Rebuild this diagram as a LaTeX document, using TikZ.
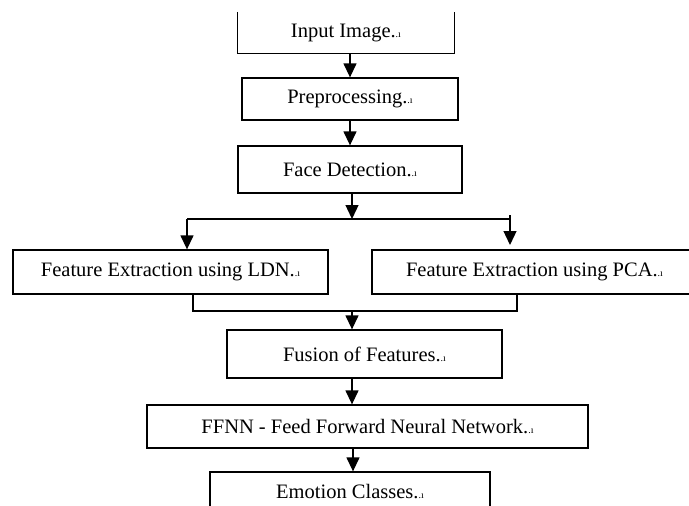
\documentclass[tikz,border=0pt]{standalone}
\usepackage{fontspec}
\setmainfont{Liberation Serif}
\usetikzlibrary{arrows.meta}
\newcommand{\pmark}{{\fontsize{10pt}{10pt}\selectfont .ı}}
\begin{document}
\begin{tikzpicture}[x=1pt,y=-1pt,
  box/.style={draw,line width=1.3pt,rectangle,inner sep=0pt,font=\fontsize{20.5pt}{23pt}\selectfont},
  plain/.style={rectangle,inner sep=0pt,font=\fontsize{20.5pt}{23pt}\selectfont},
  ln/.style={line width=1.3pt},
  arr/.style={line width=1.3pt,-{Triangle[width=13pt,length=14pt]}}]
\clip (0,0) rectangle (689,506);
\fill[white] (0,0) rectangle (689,506);
% nodes
\node[plain,minimum width=216pt,minimum height=41pt] (inp) at (346,32.5) {Input Image.\pmark};
\draw[ln] (inp.north west) -- (inp.south west) -- (inp.south east) -- (inp.north east);
\node[box,minimum width=216pt,minimum height=42pt] (pre) at (350,99) {Preprocessing.\pmark};
\node[box,minimum width=224pt,minimum height=47pt] (fd) at (350,169.5) {Face Detection.\pmark};
\node[box,minimum width=315pt,minimum height=44pt] (ldn) at (170.5,272) {Feature Extraction using LDN.\pmark};
\node[box,minimum width=325pt,minimum height=44pt] (pca) at (534.5,272) {Feature Extraction using PCA.\pmark};
\node[box,minimum width=275pt,minimum height=48pt] (fus) at (364.5,354) {Fusion of Features.\pmark};
\node[box,minimum width=441pt,minimum height=43pt] (ffnn) at (367.5,426.5) {FFNN - Feed Forward Neural Network.\pmark};
\node[box,minimum width=280pt,minimum height=40pt] (emo) at (350,492) {Emotion Classes.\pmark};
% junction coordinates
\coordinate (bc) at (352,219);
\coordinate (bl) at (187,219);
\coordinate (br) at (510,219);
\coordinate (brt) at (510,215);
\coordinate (brd) at (510,245);
\coordinate (jl) at (193,311);
\coordinate (jr) at (517,311);
\coordinate (jc) at (352,311);
\coordinate (ec) at (353,448);
% connectors
\draw[arr] (pre.north |- inp.south) -- (pre.north);
\draw[arr] (pre.south) -- (pre.south |- fd.north);
\draw[arr] (bc |- fd.south) -- (bc);
\draw[ln] (bl) -- (br);
\draw[arr] (bl) -- (bl |- ldn.north);
\draw[arr] (brt) -- (brd);
\draw[ln] (jl |- ldn.south) -- (jl) -- (jr) -- (jr |- pca.south);
\draw[arr] (jc) -- (jc |- fus.north);
\draw[arr] (jc |- fus.south) -- (jc |- ffnn.north);
\draw[arr] (ec) -- (ec |- emo.north);
\end{tikzpicture}
\end{document}
